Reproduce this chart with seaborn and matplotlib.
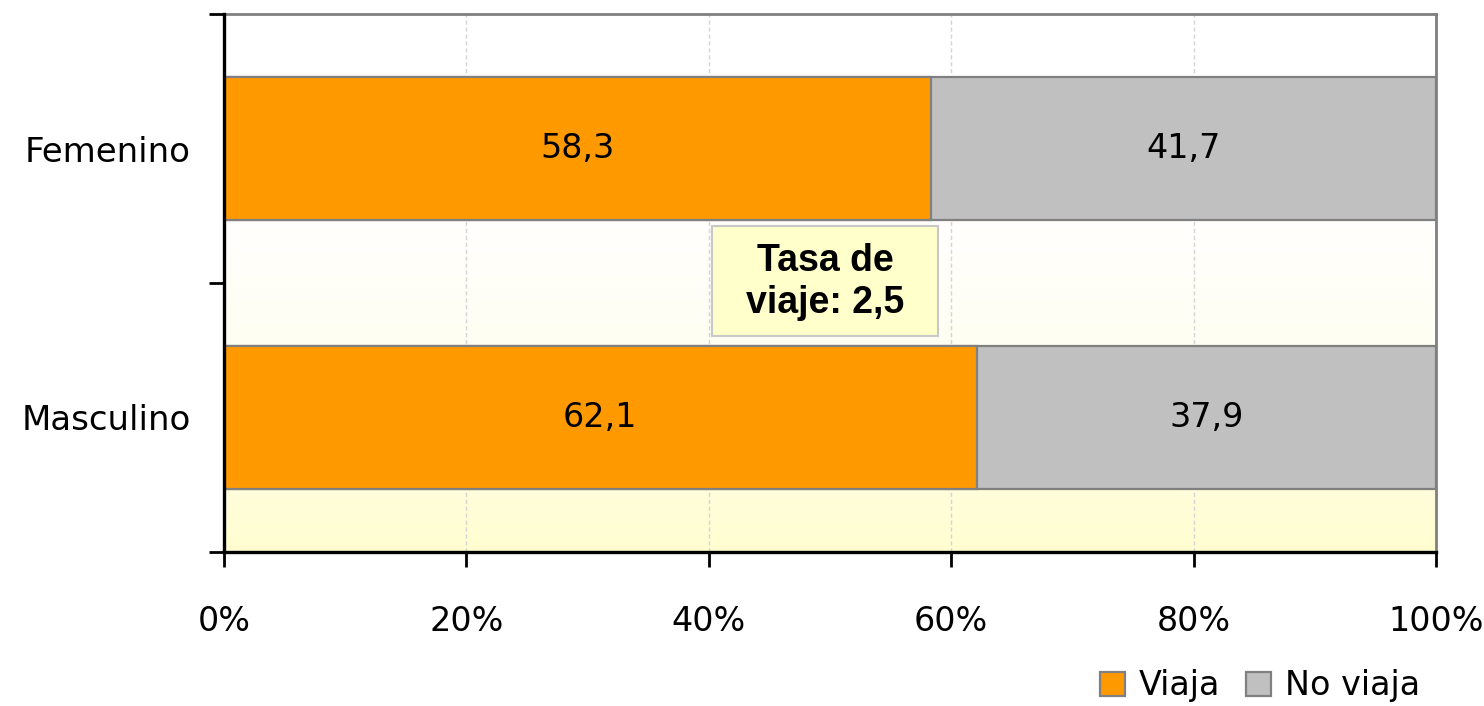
import numpy as np
import pandas as pd
import seaborn as sns
import matplotlib.pyplot as plt
from matplotlib.colors import LinearSegmentedColormap
from matplotlib.patches import Patch, Rectangle

categories = ["Femenino", "Masculino"]
viaja = [58.3, 62.1]
no_viaja = [41.7, 37.9]
x_ticks = [0, 20, 40, 60, 80, 100]
note = "Tasa de\nviaje: 2,5"

sns.set_style("white")
plt.rcParams["font.family"] = ["DejaVu Sans"]
plt.rcParams["text.color"] = "black"

df = pd.DataFrame({"sexo": categories, "viaja": viaja, "no_viaja": no_viaja})
df["total"] = df["viaja"] + df["no_viaja"]

fig = plt.figure(figsize=(14.84, 7.06), dpi=100)
ax = fig.add_axes([224 / 1484, 1 - 552 / 706, 1212 / 1484, 538 / 706])

# background gradient: white on top, pale yellow only near the bottom
grad = LinearSegmentedColormap.from_list("bg", ["#FFFDD0", "#FFFEF0", "#FFFFFF", "#FFFFFF"])
ax.imshow(np.linspace(0, 1, 256).reshape(-1, 1)[::-1], cmap=grad, aspect="auto",
          extent=[0, 1, 0, 1], transform=ax.transAxes, zorder=0)

sns.barplot(data=df, y="sexo", x="total", orient="h", color="#C0C0C0", saturation=1,
            width=0.53, edgecolor="#808080", linewidth=1.6, ax=ax, zorder=3)
sns.barplot(data=df, y="sexo", x="viaja", orient="h", color="#FF9900", saturation=1,
            width=0.53, edgecolor="#808080", linewidth=1.6, ax=ax, zorder=4)

for i, row in df.iterrows():
    ax.text(row["viaja"] / 2, i, f"{row['viaja']:.1f}".replace(".", ","),
            ha="center", va="center", fontsize=24, color="black", zorder=6)
    ax.text(row["viaja"] + row["no_viaja"] / 2, i, f"{row['no_viaja']:.1f}".replace(".", ","),
            ha="center", va="center", fontsize=24, color="black", zorder=6)

# note box
ax.add_patch(Rectangle((0.4026, 0.4015), 0.1865, 0.2045, transform=ax.transAxes,
                       facecolor="#FFFFCC", edgecolor="#C8C8C8", lw=1.5, zorder=7))
ax.text(0.4958, 0.5017, note, transform=ax.transAxes, ha="center", va="center",
        fontsize=27, fontweight="bold", color="black",
        family=["Liberation Sans", "DejaVu Sans"], linespacing=1.22, zorder=8)

ax.set_xlim(0, 100)
ax.set_ylim(1.5, -0.5)
ax.set_xticks(x_ticks)
ax.set_xticklabels([f"{t}%" for t in x_ticks])
ax.set_yticks(range(len(categories)))
ax.set_yticklabels(categories)
ax.set_yticks([-0.5, 0.5, 1.5], minor=True)
ax.set_xlabel("")
ax.set_ylabel("")

ax.xaxis.grid(True, color="#D4D4D4", linestyle=(0, (3, 2)), linewidth=1, zorder=1)
ax.set_axisbelow(True)

ax.tick_params(axis="x", which="major", direction="out", length=11, width=2,
               color="black", labelsize=24, pad=27, bottom=True, labelcolor="black")
ax.tick_params(axis="y", which="major", length=0, labelsize=24.5, pad=24, left=False,
               labelcolor="black")
ax.tick_params(axis="y", which="minor", direction="out", length=11, width=2,
               color="black", left=True)

for side in ["left", "bottom"]:
    ax.spines[side].set_color("black")
    ax.spines[side].set_linewidth(2.4)
    ax.spines[side].set_zorder(9)
for side in ["top", "right"]:
    ax.spines[side].set_color("#808080")
    ax.spines[side].set_linewidth(2)
    ax.spines[side].set_visible(True)

handles = [Patch(facecolor="#FF9900", edgecolor="#808080", linewidth=1.6, label="Viaja"),
           Patch(facecolor="#C0C0C0", edgecolor="#808080", linewidth=1.6, label="No viaja")]
fig.legend(handles=handles, loc="center right", bbox_to_anchor=(0.968, 1 - 686 / 706),
           ncol=2, frameon=False, fontsize=24, handlelength=0.75, handleheight=0.75,
           handletextpad=0.4, columnspacing=0.8, borderpad=0, labelcolor="black")

fig.savefig("out.png", dpi=100)
